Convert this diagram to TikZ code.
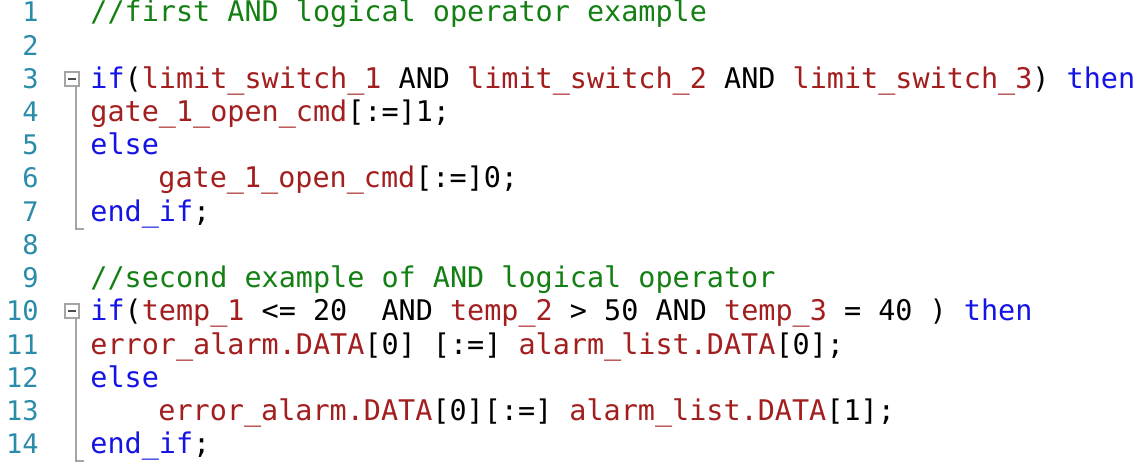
\documentclass[tikz,border=0pt]{standalone}
\usepackage{fontspec}
\setmonofont{DejaVu Sans Mono}
\definecolor{kwblue}{RGB}{20,20,230}
\definecolor{idred}{RGB}{163,30,30}
\definecolor{cmgreen}{RGB}{20,128,20}
\definecolor{numteal}{RGB}{43,140,170}
\definecolor{guide}{RGB}{165,165,165}
\newcommand{\kw}[1]{\textcolor{kwblue}{#1}}
\newcommand{\id}[1]{\textcolor{idred}{#1}}
\newcommand{\cm}[1]{\textcolor{cmgreen}{#1}}
\tikzset{every picture/.style={line width=0.75pt}}
\tikzset{codeline/.style={anchor=base west,inner sep=0pt,font=\ttfamily\fontsize{28.45}{28}\selectfont},
  linenum/.style={anchor=base east,inner sep=0pt,text=numteal,font=\ttfamily\fontsize{27}{27}\selectfont}}
\begin{document}
\begin{tikzpicture}[x=1pt,y=-1pt]
\useasboundingbox[fill=white] (0,0) rectangle (1142,462);

% line numbers
\foreach \n in {1,...,14}
  \node[linenum] (n\n) at (39,{22+33.2*(\n-1)}) {\n};

% first example
\node[codeline] (c1) at (90,22) {\cm{//first AND logical operator example}};
\node[codeline] (c3) at (90,88.4) {\kw{if}(\id{limit\_switch\_1} AND \id{limit\_switch\_2} AND \id{limit\_switch\_3}) \kw{then}};
\node[codeline] (c4) at (90,121.6) {\id{gate\_1\_open\_cmd}[:=]1;};
\node[codeline] (c5) at (90,154.8) {\kw{else}};
\node[codeline] (c6) at (158,188) {\id{gate\_1\_open\_cmd}[:=]0;};
\node[codeline] (c7) at (90,221.2) {\kw{end\_if};};

% second example
\node[codeline] (c9) at (90,287.6) {\cm{//second example of AND logical operator}};
\node[codeline] (c10) at (90,320.8) {\kw{if}(\id{temp\_1} <= 20\ \ AND \id{temp\_2} > 50 AND \id{temp\_3} = 40 ) \kw{then}};
\node[codeline] (c11) at (90,354) {\id{error\_alarm.DATA}[0] [:=] \id{alarm\_list.DATA}[0];};
\node[codeline] (c12) at (90,387.2) {\kw{else}};
\node[codeline] (c13) at (158,420.4) {\id{error\_alarm.DATA}[0][:=] \id{alarm\_list.DATA}[1];};
\node[codeline] (c14) at (90,453.6) {\kw{end\_if};};

% fold markers
\foreach \y in {79,311} {
  \draw[guide,line width=1.2pt] (65,\y-7) rectangle (79,\y+7);
  \draw[black!70,line width=1.2pt] (68,\y) -- (76,\y);
  \draw[guide,line width=1.2pt] (76,\y+7) -- (76,\y+150) -- (84,\y+150);
}
\end{tikzpicture}
\end{document}
